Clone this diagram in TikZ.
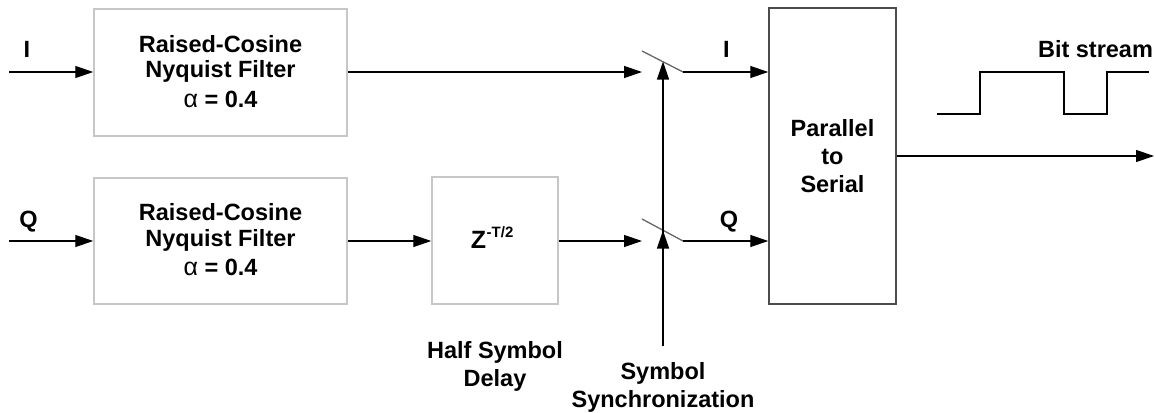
\documentclass[tikz,border=0pt]{standalone}
\usepackage{fontspec}
\setmainfont{Liberation Sans}
\newfontfamily\lbl{Liberation Sans}
\usetikzlibrary{arrows.meta}
\begin{document}
\begin{tikzpicture}[x=1pt,y=-1pt,
  lab/.style={font=\lbl\bfseries\fontsize{23.5}{28}\selectfont, text=black, align=center, inner sep=0pt},
  flab/.style={lab, font=\lbl\bfseries\fontsize{23.5}{25.5}\selectfont},
  blk/.style={draw=black!22, line width=1.5pt, fill=white, minimum width=#1, inner sep=0pt},
  conn/.style={line width=1.3pt, draw=black},
  arr/.style={conn, -{Triangle[length=18pt,width=12pt]}},
  swline/.style={line width=1.3pt, draw=black!60},
]
\useasboundingbox (0,0) rectangle (1155,412);

% blocks
\node[blk=253pt, minimum height=127pt] (fI) at (220.5,72.5) {};
\node[flab] (fIt) at (220.5,71.5) {Raised-Cosine\\Nyquist Filter\\[4pt]{\mdseries\fontsize{25}{25}\selectfont α} = 0.4};
\node[blk=253pt, minimum height=126pt] (fQ) at (220.5,241) {};
\node[flab] (fQt) at (220.5,240) {Raised-Cosine\\Nyquist Filter\\[4pt]{\mdseries\fontsize{25}{25}\selectfont α} = 0.4};
\node[blk=126pt, minimum height=127pt] (z) at (495,240.5) {};
\node[font=\lbl\bfseries\fontsize{25}{28}\selectfont, inner sep=0pt] (zt) at (478.5,239.5) {Z};
\node[font=\lbl\bfseries\fontsize{15}{16}\selectfont, inner sep=0pt, anchor=north west] (zs) at (486.5,226.5) {{-}T/2};
\node[draw=black!70, line width=1.5pt, minimum width=127pt, minimum height=296pt, lab] (ps) at (832.5,156)
  {Parallel\\to\\Serial};

% free ends and switch points
\coordinate (inI) at (9,72);
\coordinate (inQ) at (9,241);
\coordinate (swIa) at (642,72);
\coordinate (swIt) at (642,51);
\coordinate (swIb) at (683,72);
\coordinate (swIm) at (663,61.5);
\coordinate (swQa) at (642,241);
\coordinate (swQt) at (642,219);
\coordinate (swQb) at (683,241);
\coordinate (swQm) at (663,230.5);
\coordinate (sync) at (663,346);
\coordinate (out) at (1154,156);

% signal paths
\draw[arr] (inI) -- (fI.west |- inI);
\draw[arr] (inQ) -- (fQ.west |- inQ);
\draw[arr] (fI.east |- swIa) -- (swIa);
\draw[arr] (fQ.east |- inQ) -- (z.west |- inQ);
\draw[arr] (z.east |- swQa) -- (swQa);
\draw[swline] (swIt) -- (swIb);
\draw[swline] (swQt) -- (swQb);
\draw[arr] (swIb) -- (ps.west |- swIb);
\draw[arr] (swQb) -- (ps.west |- swQb);
\draw[arr] (sync) -- (swIm);
\draw[arr] (sync) -- (swQm);
\draw[arr] (ps.east |- out) -- (out);

% bit stream waveform
\draw[line width=1.3pt] (937,114) -- (980,114) -- (980,72) -- (1064,72) -- (1064,114)
  -- (1107,114) -- (1107,72) -- (1149,72);

% labels
\node[lab] (lI) at (27,49.5) {I};
\node[lab] (lQ) at (28.5,222) {Q};
\node[lab] (oI) at (726.5,49.5) {I};
\node[lab] (oQ) at (729,222) {Q};
\node[lab] (bs) at (1095.5,49.5) {Bit stream};
\node[lab] (hsd) at (495,366) {Half Symbol\\Delay};
\node[lab] (ss) at (663,387) {Symbol\\Synchronization};
\end{tikzpicture}
\end{document}
